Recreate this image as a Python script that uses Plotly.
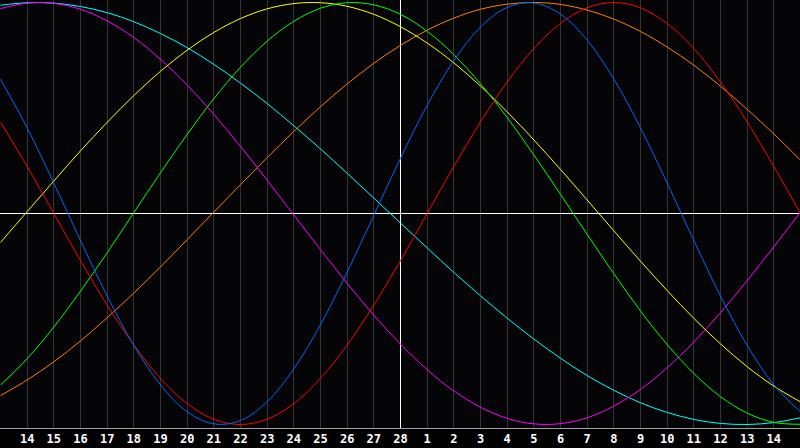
import plotly.graph_objects as go

# day positions along the chart, 0 = left edge, 30 = right edge
days = list(range(31))
tick_pos = list(range(1, 30))
tick_labels = ['14', '15', '16', '17', '18', '19', '20', '21', '22', '23', '24', '25', '26', '27', '28',
               '1', '2', '3', '4', '5', '6', '7', '8', '9', '10', '11', '12', '13', '14']
today = '28'

# values, one per day, -1 .. 1
blue = [0.637, 0.406, 0.144, -0.128, -0.391, -0.625, -0.812, -0.940, -0.997, -0.981, -0.892,
        -0.736, -0.527, -0.278, -0.008, 0.262, 0.513, 0.725, 0.884, 0.977, 0.998, 0.945,
        0.822, 0.637, 0.406, 0.144, -0.128, -0.391, -0.625, -0.812, -0.940]
red = [0.434, 0.223, 0.000, -0.223, -0.434, -0.623, -0.782, -0.901, -0.975, -1.000, -0.975,
       -0.901, -0.782, -0.623, -0.434, -0.223, 0.000, 0.223, 0.434, 0.623, 0.782, 0.901,
       0.975, 1.000, 0.975, 0.901, 0.782, 0.623, 0.434, 0.223, 0.000]
green = [-0.813, -0.688, -0.538, -0.368, -0.186, 0.004, 0.193, 0.375, 0.544, 0.693, 0.817,
         0.911, 0.973, 0.999, 0.989, 0.944, 0.864, 0.753, 0.615, 0.455, 0.278, 0.091,
         -0.099, -0.285, -0.462, -0.621, -0.758, -0.868, -0.946, -0.990, -0.999]
yellow = [-0.137, 0.009, 0.154, 0.297, 0.432, 0.559, 0.674, 0.774, 0.858, 0.924, 0.970,
          0.995, 0.999, 0.982, 0.944, 0.885, 0.808, 0.714, 0.604, 0.482, 0.349, 0.209,
          0.064, -0.082, -0.226, -0.365, -0.497, -0.618, -0.726, -0.818, -0.893]
orange = [-0.863, -0.789, -0.703, -0.604, -0.494, -0.377, -0.253, -0.124, 0.007, 0.137, 0.265,
          0.389, 0.506, 0.614, 0.712, 0.797, 0.869, 0.926, 0.968, 0.992, 1.000, 0.991,
          0.964, 0.921, 0.863, 0.789, 0.703, 0.603, 0.494, 0.377, 0.253]
magenta = [0.971, 0.997, 0.996, 0.968, 0.913, 0.834, 0.731, 0.609, 0.470, 0.318, 0.158,
           -0.007, -0.171, -0.331, -0.482, -0.619, -0.740, -0.841, -0.918, -0.971, -0.997, -0.996,
           -0.968, -0.913, -0.834, -0.731, -0.609, -0.470, -0.318, -0.158, 0.007]
cyan = [0.987, 0.999, 0.997, 0.981, 0.952, 0.909, 0.853, 0.786, 0.707, 0.618, 0.521,
        0.416, 0.306, 0.191, 0.073, -0.045, -0.163, -0.279, -0.390, -0.496, -0.595, -0.686,
        -0.768, -0.838, -0.897, -0.943, -0.976, -0.995, -1.000, -0.991, -0.968]

series = [
    (orange, '#ff8000'),
    (cyan, '#00ffff'),
    (magenta, '#ff00ff'),
    (yellow, '#ffff00'),
    (green, '#00ff00'),
    (red, '#ff0000'),
    (blue, '#0066ff'),
]

x_range = [-0.01875, 29.98125]
y_range = [-1.0166, 1.0119]

fig = go.Figure()

# white marker line through today, drawn first so the curves sit on top
today_pos = tick_pos[tick_labels.index(today)]
fig.add_trace(go.Scatter(x=[today_pos, today_pos], y=y_range, mode='lines',
                         line=dict(color='white', width=1),
                         showlegend=False, hoverinfo='skip', cliponaxis=True))

for values, colour in series:
    fig.add_trace(go.Scatter(x=days, y=values, mode='lines',
                             line=dict(color=colour, width=1, shape='spline'),
                             showlegend=False, hoverinfo='skip'))

fig.update_layout(
    width=800, height=448,
    margin=dict(l=0, r=0, t=0, b=20),
    paper_bgcolor='black',
    plot_bgcolor='#050508',
)
# ranges nudged half a pixel so the white centre lines land on whole pixels
fig.update_xaxes(range=x_range, tickvals=tick_pos, ticktext=tick_labels,
                 showgrid=True, gridcolor='#333333', gridwidth=1, zeroline=False,
                 showline=True, linecolor='#a0a0a0', linewidth=1, mirror=True,
                 ticks='', tickfont=dict(family='DejaVu Sans Mono', size=12, color='white', weight='bold'))
fig.update_yaxes(range=y_range, showgrid=False, zeroline=True, zerolinecolor='white', zerolinewidth=1,
                 showticklabels=False, showline=True, linecolor='#a0a0a0', linewidth=1, mirror=True)

# the page itself should not add a border round the figure
fig.write_html('out.html', config={'displayModeBar': False},
               post_script="document.body.style.margin='0';")
